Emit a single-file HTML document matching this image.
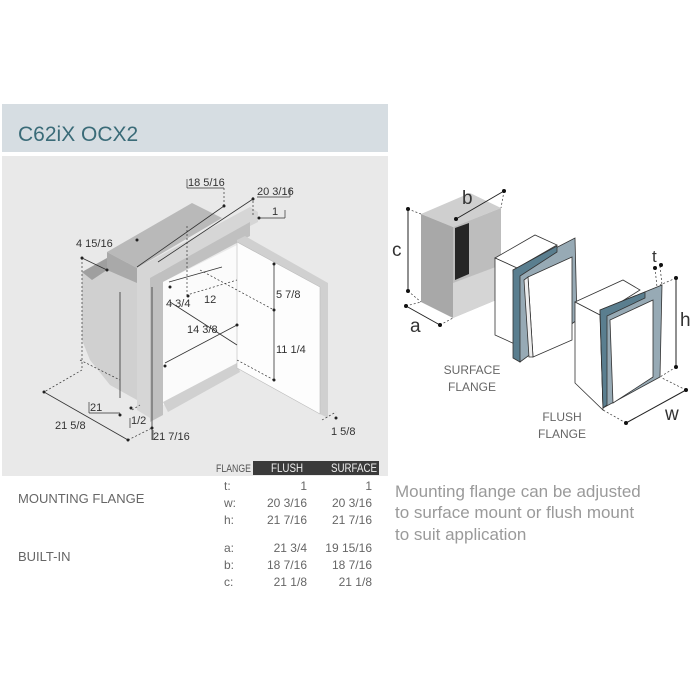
<!DOCTYPE html>
<html><head><meta charset="utf-8"><style>
html,body{margin:0;padding:0;background:#fff;width:700px;height:700px;overflow:hidden}
svg{display:block}
text{font-family:"Liberation Sans",sans-serif}
</style></head><body>
<svg width="700" height="700" viewBox="0 0 700 700" xmlns="http://www.w3.org/2000/svg">
<rect x="2" y="104" width="386" height="48" fill="#d6dde2"/>
<text x="18" y="141" font-size="21" fill="#3a6b78">C62iX OCX2</text>
<rect x="2" y="156" width="386" height="320" fill="#e9e9e9"/>

<!-- fridge -->
<g stroke="none">
<polygon points="82,272 107,258 107,270 137,270 137,400 110,385 90,360 82,340" fill="#d0d0d0"/>
<polygon points="107,252 192,203 222,218 137,268" fill="#b9b9b9"/>
<polygon points="107,252 137,268 137,283 107,270" fill="#a9a9a9"/>
<polygon points="82,272 107,258 107,270 92,280" fill="#9f9f9f"/>
<polygon points="137,268 250,207 258,212 258,222 160,272 160,410 150,418 137,410" fill="#d6d6d6"/>
<polygon points="150,278 250,222 250,236 163,282 163,415 150,422" fill="#c0c0c0"/>
<polygon points="163,282 237,245 237,365 163,405" fill="#fbfbfb"/>
<polygon points="163,402 237,363 240,372 168,412" fill="#d0d0d0"/>
<polygon points="237,240 245,236 328,283 328,418 320,414 237,368" fill="#d0d0d0"/>
<polygon points="237,242 320,287 320,414 237,368" fill="#fdfdfd" stroke="#bbb" stroke-width="0.6"/>
</g>
<g stroke="#333" stroke-width="0.8" fill="none">
<path d="M137,267 L224,206 M158,262 L253,199 M170,302 L237,345 M165,363 L237,325 M274,264 L274,380 M169,282 L222,267"/>
<path d="M44,392 L128,440" />
<path d="M120,292 L120,398 M152,287 L152,440 M82,258 L107,270"/>
</g>
<g stroke="#333" stroke-width="0.7" fill="none" stroke-dasharray="2,2">
<path d="M82,258 L82,370 L44,392 M128,440 L152,428 M224,188 L224,206 M253,197 L253,215 M187,226 L187,295 L237,280 M200,270 L274,310 M237,360 L274,380 M322,420 L336,412 M132,410 L140,405 M80,360 L120,380"/>
</g>
<g fill="#222">
<circle cx="82" cy="258" r="1.5"/><circle cx="107" cy="270" r="1.5"/><circle cx="137" cy="240" r="1.5"/><circle cx="224" cy="206" r="1.5"/><circle cx="253" cy="199" r="1.5"/><circle cx="259" cy="218" r="1.5"/><circle cx="274" cy="264" r="1.5"/><circle cx="274" cy="310" r="1.5"/><circle cx="274" cy="380" r="1.5"/><circle cx="170" cy="287" r="1.5"/><circle cx="188" cy="296" r="1.5"/><circle cx="237" cy="325" r="1.5"/><circle cx="165" cy="366" r="1.5"/><circle cx="120" cy="415" r="1.5"/><circle cx="152" cy="428" r="1.5"/><circle cx="44" cy="392" r="1.5"/><circle cx="128" cy="440" r="1.5"/><circle cx="336" cy="418" r="1.5"/><circle cx="131" cy="408" r="1.5"/>
</g>
<g stroke="#333" stroke-width="0.7" fill="none">
<path d="M187,188 L187,179 M187,188 L224,188 M257,197 L290,197 M290,188 L290,197 M260,218 L285,218 M285,210 L285,218 M89,413 L89,402 M89,413 L120,413 M130,428 L130,418 M153,440 L153,430"/>
</g>
<g font-size="11" fill="#333">
<text x="188" y="186">18 5/16</text>
<text x="257" y="195">20 3/16</text>
<text x="272" y="215">1</text>
<text x="76" y="247">4 15/16</text>
<text x="166" y="307">4 3/4</text>
<text x="204" y="303">12</text>
<text x="276" y="298">5 7/8</text>
<text x="187" y="333">14 3/8</text>
<text x="276" y="353">11 1/4</text>
<text x="90" y="411">21</text>
<text x="131" y="424">1/2</text>
<text x="55" y="429">21 5/8</text>
<text x="153" y="440">21 7/16</text>
<text x="331" y="435">1 5/8</text>
</g>

<!-- table -->
<rect x="253" y="461" width="126" height="14" fill="#3a3a3a"/>
<g font-size="12" fill="#666">
<text x="216" y="472" font-size="11" fill="#555" textLength="35" lengthAdjust="spacingAndGlyphs">FLANGE</text>
<text x="271" y="472" fill="#eee" textLength="32" lengthAdjust="spacingAndGlyphs">FLUSH</text>
<text x="331" y="472" fill="#eee" textLength="46" lengthAdjust="spacingAndGlyphs">SURFACE</text>
<text x="18" y="503" font-size="13">MOUNTING FLANGE</text>
<text x="18" y="561" font-size="13">BUILT-IN</text>
<text x="224" y="490">t:</text><text x="224" y="507">w:</text><text x="224" y="524">h:</text>
<text x="224" y="552">a:</text><text x="224" y="569">b:</text><text x="224" y="586">c:</text>
<g text-anchor="end">
<text x="307" y="490">1</text><text x="307" y="507">20  3/16</text><text x="307" y="524">21  7/16</text>
<text x="307" y="552">21  3/4</text><text x="307" y="569">18  7/16</text><text x="307" y="586">21  1/8</text>
<text x="372" y="490">1</text><text x="372" y="507">20  3/16</text><text x="372" y="524">21  7/16</text>
<text x="372" y="552">19 15/16</text><text x="372" y="569">18  7/16</text><text x="372" y="586">21  1/8</text>
</g>
</g>

<!-- right diagram -->
<polygon points="421,214 470,193 501,208 453,227" fill="#cfcfcf"/>
<polygon points="421,214 453,227 453,318 421,302" fill="#a8a8a8"/>
<polygon points="453,227 501,208 501,298 453,318" fill="#bdbdbd"/>
<polygon points="453,283 501,265 501,298 453,318" fill="#d5d5d5"/>
<polygon points="455,228 469,223 469,274 455,280" fill="#262626"/>
<g stroke="#222" stroke-width="1" fill="none">
<path d="M408,209 L408,291 M456,219 L504,191 M406,306 L440,325"/>
</g>
<g stroke="#333" stroke-width="0.7" fill="none" stroke-dasharray="2,2">
<path d="M408,209 L421,214 M408,291 L421,302 M504,191 L501,208 M440,325 L453,318 M406,306 L421,302 M655,268 L657,287 M660,266 L662,285 M676,278 L660,285 M676,367 L660,377 M626,423 L603,410 M686,390 L662,378"/>
</g>
<g stroke="#222" stroke-width="1" fill="none">
<path d="M676,278 L676,367 M626,423 L686,390"/>
</g>
<g fill="#111">
<circle cx="408" cy="209" r="2"/><circle cx="408" cy="291" r="2"/><circle cx="456" cy="219" r="2"/><circle cx="504" cy="191" r="2"/><circle cx="406" cy="306" r="2"/><circle cx="440" cy="325" r="2"/><circle cx="655" cy="268" r="2"/><circle cx="661" cy="265" r="2"/><circle cx="676" cy="278" r="2"/><circle cx="676" cy="367" r="2"/><circle cx="626" cy="423" r="2"/><circle cx="686" cy="390" r="2"/>
</g>
<!-- surface flange -->
<g stroke="#333" stroke-width="0.8">
<polygon points="495,258 535,235 557,245 517,268" fill="#fff"/>
<polygon points="495,258 517,268 517,345 495,335" fill="#fff"/>
<polygon points="513,270 575,238 577,320 520,362" fill="#97aab5"/>
<polygon points="513,270 557,246 557,252 520,276 520,362 513,358" fill="#5a7e8f"/>
<polygon points="528,277 572,257 572,340 533,357" fill="#fff"/>
<polygon points="524,280 528,277 533,357 529,357" fill="#eee"/>
</g>
<!-- flush flange -->
<g stroke="#333" stroke-width="0.8">
<polygon points="575,302 623,280 640,290 600,315" fill="#fff"/>
<polygon points="575,302 600,315 603,410 575,383" fill="#fff"/>
<polygon points="600,310 662,285 660,377 603,408" fill="#97aab5"/>
<polygon points="600,310 645,292 645,298 607,316 607,405 603,408" fill="#5a7e8f"/>
<polygon points="610,320 653,300 653,377 613,403" fill="#fff"/>
</g>
<g fill="#333" font-size="19">
<text x="392" y="256">c</text><text x="462" y="204">b</text><text x="410" y="332">a</text>
<text x="652" y="262" font-size="17">t</text><text x="680" y="326">h</text><text x="665" y="420">w</text>
</g>
<g fill="#666" font-size="12" text-anchor="middle">
<text x="472" y="374">SURFACE</text><text x="472" y="391">FLANGE</text>
<text x="562" y="421">FLUSH</text><text x="562" y="438">FLANGE</text>
</g>
<g fill="#9a9a9a" font-size="17">
<text x="395" y="497">Mounting flange can be adjusted</text>
<text x="395" y="518">to surface mount or flush mount</text>
<text x="395" y="540">to suit application</text>
</g>
</svg>
</body></html>
